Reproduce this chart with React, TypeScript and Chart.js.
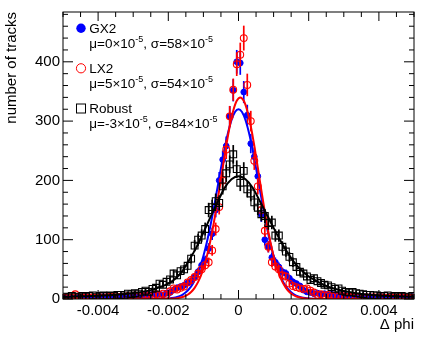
import React, { useEffect, useRef } from 'react';
import { Chart, registerables } from 'chart.js';

Chart.register(...registerables);

const FONT = '"Liberation Sans", Arial, Helvetica, sans-serif';

// Histogram binning (100 bins from -0.005 to 0.005)
const BIN_LOW = -0.005;
const BIN_WIDTH = 0.0001;
const N_BINS = 100;
const BIN_CENTERS = Array.from({ length: N_BINS }, (_, i) => BIN_LOW + (i + 0.5) * BIN_WIDTH);

// Bin contents (bins -4.95e-3 ... 4.95e-3)
const GX2_COUNTS = [
  3, 2, 3, 2, 3, 2, 3, 3, 2, 3,
  3, 4, 3, 4, 3, 4, 5, 4, 5, 5,
  6, 5, 6, 7, 6, 8, 7, 8, 7, 10,
  11, 15, 19, 21, 23, 27, 30, 37, 46, 57,
  65, 85, 110, 150, 200, 235, 258, 308, 352, 400,
  398, 349, 310, 262, 240, 207, 142, 100, 88, 70,
  62, 54, 46, 43, 35, 29, 26, 22, 15, 12,
  11, 9, 10, 8, 9, 7, 8, 6, 7, 5,
  6, 5, 4, 5, 4, 4, 3, 4, 3, 3,
  4, 3, 2, 3, 3, 2, 3, 2, 3, 4,
];

const LX2_COUNTS = [
  2, 3, 2, 8, 3, 2, 3, 2, 3, 2,
  3, 2, 3, 4, 3, 3, 4, 3, 5, 4,
  6, 4, 5, 7, 5, 6, 8, 7, 9, 7,
  13, 18, 16, 19, 21, 28, 32, 37, 43, 50,
  57, 62, 82, 118, 155, 200, 252, 308, 353, 396,
  412, 440, 361, 300, 233, 190, 150, 115, 88, 62,
  55, 50, 40, 38, 26, 22, 20, 18, 17, 18,
  14, 11, 7, 8, 6, 7, 5, 6, 4, 5,
  4, 3, 4, 3, 3, 2, 3, 2, 3, 2,
  3, 2, 2, 3, 2, 2, 3, 2, 2, 2,
];

const ROBUST_COUNTS = [
  4, 3, 5, 4, 3, 5, 4, 5, 6, 4,
  5, 6, 5, 6, 5, 7, 7, 6, 9, 8,
  10, 9, 12, 14, 12, 17, 19, 26, 24, 29,
  33, 43, 40, 47, 50, 56, 68, 90, 100, 107,
  118, 150, 155, 165, 162, 190, 212, 227, 244, 219,
  196, 216, 185, 178, 163, 154, 143, 140, 128, 129,
  107, 107, 88, 80, 71, 62, 54, 46, 43, 38,
  32, 35, 30, 27, 24, 23, 20, 17, 18, 14,
  12, 11, 12, 10, 9, 8, 7, 7, 6, 6,
  5, 5, 6, 4, 5, 4, 5, 4, 3, 5,
];

// Fit curves (x in units of 1e-3)
const FIT_X_UNIT = 1e-3;
const GX2_FIT_X = [
  -5, -2.6, -2.4, -2.2,
  -2.0, -1.9, -1.8, -1.7, -1.6, -1.5, -1.4, -1.3, -1.2, -1.1, -1.0,
  -0.9, -0.8, -0.7, -0.6, -0.5, -0.4, -0.3, -0.2, -0.1, 0,
  0.1, 0.2, 0.3, 0.4, 0.5, 0.6, 0.7, 0.8, 0.9, 1.0,
  1.1, 1.2, 1.3, 1.4, 1.5, 1.6, 1.7, 1.8, 1.9, 2.0,
  2.2, 2.4, 2.6, 5,
];
const GX2_FIT_Y = [
  0, 0.01, 0.06, 0.24,
  0.84, 1.5, 2.6, 4.4, 7.1, 11.3, 17.4, 25.9, 37.6, 53.0, 72.4,
  96.0, 123.6, 154.5, 187.4, 220.7, 252.3, 279.9, 301.5, 315.3, 320,
  315.3, 301.5, 279.9, 252.3, 220.7, 187.4, 154.5, 123.6, 96.0, 72.4,
  53.0, 37.6, 25.9, 17.4, 11.3, 7.1, 4.4, 2.6, 1.5, 0.84,
  0.24, 0.06, 0.01, 0,
];

const LX2_FIT_X = [
  -5, -2.35, -2.15,
  -1.95, -1.85, -1.75, -1.65, -1.55, -1.45, -1.35, -1.25, -1.15, -1.05,
  -0.95, -0.85, -0.75, -0.65, -0.55, -0.45, -0.35, -0.25, -0.15, -0.05,
  0.05,
  0.15, 0.25, 0.35, 0.45, 0.55, 0.65, 0.75, 0.85, 0.95, 1.05,
  1.15, 1.25, 1.35, 1.45, 1.55, 1.65, 1.75, 1.85, 1.95,
  2.05, 2.25, 2.45, 5,
];
const LX2_FIT_Y = [
  0, 0.02, 0.08,
  0.36, 0.7, 1.3, 2.4, 4.2, 7.2, 11.8, 18.8, 28.8, 42.7,
  61.2, 84.8, 113.5, 146.7, 183.4, 221.5, 258.4, 291.4, 317.5, 334.2,
  340,
  334.2, 317.5, 291.4, 258.4, 221.5, 183.4, 146.7, 113.5, 84.8, 61.2,
  42.7, 28.8, 18.8, 11.8, 7.2, 4.2, 2.4, 1.3, 0.7,
  0.36, 0.08, 0.02, 0,
];

const ROBUST_FIT_X = [
  -5, -4.5, -4, -3.5, -3, -2.5, -2.2, -2.0, -1.8, -1.6, -1.4, -1.2, -1.0,
  -0.8, -0.6, -0.4, -0.2, 0, 0.2, 0.4, 0.6, 0.8, 1.0, 1.2, 1.4, 1.6,
  1.8, 2.0, 2.2, 2.5, 3, 3.5, 4, 4.5, 5,
];
const ROBUST_FIT_Y = [
  3.5, 4.5, 5.5, 7, 10, 15, 21, 26, 34, 47, 66, 87, 112,
  138, 163, 187, 202, 207, 202, 188, 166, 143, 120, 98, 78, 61,
  48, 38, 31, 22, 13.5, 8.5, 6, 4.5, 4,
];

const X_TICKS = [-0.004, -0.002, 0, 0.002, 0.004];
const Y_TICKS = [0, 100, 200, 300, 400];
const X_MIN = -0.005;
const X_MAX = 0.005;
const Y_MIN = 0;
const Y_MAX = 484;

const SERIES = [
  { label: 'GX2', mu: '0', sigma: '58', color: '#0000ff' },
  { label: 'LX2', mu: '5', sigma: '54', color: '#ff0000' },
  { label: 'Robust', mu: '-3', sigma: '84', color: '#000000' },
];

const X_TITLE = '\u0394 phi';
const Y_TITLE = 'number of tracks';

const toPoints = (xs: number[], ys: number[], unit = 1) => xs.map((x, i) => ({ x: x * unit, y: ys[i] }));

const errorBarPlugin = {
  id: 'errorBars',
  beforeDatasetDraw(chart: any, args: any) {
    const ds = chart.data.datasets[args.index];
    if (!ds.errorBars) return;
    const { ctx, chartArea: a, scales } = chart;
    const xs = scales.x;
    const ys = scales.y;
    ctx.save();
    ctx.beginPath();
    ctx.rect(a.left, a.top, a.right - a.left, a.bottom - a.top);
    ctx.clip();
    ctx.strokeStyle = ds.borderColor;
    ctx.lineWidth = 1.7;
    for (const p of ds.data) {
      const e = Math.sqrt(p.y);
      const px = xs.getPixelForValue(p.x);
      ctx.beginPath();
      ctx.moveTo(px, ys.getPixelForValue(p.y - e));
      ctx.lineTo(px, ys.getPixelForValue(p.y + e));
      ctx.stroke();
    }
    ctx.restore();
  },
};

const framePlugin = {
  id: 'rootFrame',
  afterDraw(chart: any) {
    const { ctx, chartArea: a, scales } = chart;
    const xs = scales.x;
    const ys = scales.y;
    ctx.save();
    ctx.strokeStyle = '#000';
    ctx.lineWidth = 1;
    ctx.strokeRect(a.left, a.top, a.right - a.left, a.bottom - a.top);

    // x ticks (inside, bottom and top)
    ctx.beginPath();
    for (let k = 0; k <= 20; k++) {
      const v = X_MIN + k * 0.0005;
      const isMajor = X_TICKS.some((t) => Math.abs(t - v) < 1e-9);
      const len = isMajor ? 9 : 5;
      const px = xs.getPixelForValue(v);
      ctx.moveTo(px, a.bottom);
      ctx.lineTo(px, a.bottom - len);
      ctx.moveTo(px, a.top);
      ctx.lineTo(px, a.top + len);
    }
    // y ticks (inside, left and right)
    for (let v = 0; v <= Y_MAX; v += 20) {
      const isMajor = v % 100 === 0;
      const len = isMajor ? 10 : 5;
      const py = ys.getPixelForValue(v);
      ctx.moveTo(a.left, py);
      ctx.lineTo(a.left + len, py);
      ctx.moveTo(a.right, py);
      ctx.lineTo(a.right - len, py);
    }
    ctx.stroke();

    // axis titles
    ctx.fillStyle = '#000';
    ctx.font = `15px ${FONT}`;
    ctx.textAlign = 'right';
    ctx.textBaseline = 'middle';
    ctx.fillText(X_TITLE, a.right, 325);
    ctx.save();
    ctx.translate(12, a.top);
    ctx.rotate(-Math.PI / 2);
    ctx.textAlign = 'right';
    ctx.fillText(Y_TITLE, 0, 0);
    ctx.restore();

    // legend
    const mainFont = `13.5px ${FONT}`;
    const supFont = `9px ${FONT}`;
    const markX = 81;
    const textX = 89.3;
    const rowY = [33.3, 73.3, 113.3];
    SERIES.forEach((s, i) => {
      const base = rowY[i];
      const cy = base - 5;
      ctx.lineWidth = 1;
      ctx.strokeStyle = s.color;
      ctx.fillStyle = s.color;
      if (i === 0) {
        ctx.beginPath();
        ctx.arc(markX, cy, 4.7, 0, Math.PI * 2);
        ctx.fill();
      } else if (i === 1) {
        ctx.beginPath();
        ctx.arc(markX, cy, 4.6, 0, Math.PI * 2);
        ctx.stroke();
      } else {
        ctx.strokeRect(markX - 4.5, cy - 4.3, 9, 9);
      }
      ctx.fillStyle = '#000';
      ctx.textAlign = 'left';
      ctx.textBaseline = 'alphabetic';
      ctx.font = mainFont;
      ctx.fillText(s.label, textX, base);
      const parts: [string, boolean][] = [
        [`\u03bc=${s.mu}\u00d710`, false],
        ['-5', true],
        [`, \u03c3=${s.sigma}\u00d710`, false],
        ['-5', true],
      ];
      let x = textX;
      const b2 = base + (i === 0 ? 14.4 : 15);
      for (const [t, sup] of parts) {
        ctx.font = sup ? supFont : mainFont;
        ctx.fillText(t, x, sup ? b2 - 6 : b2);
        x += ctx.measureText(t).width;
      }
    });
    ctx.restore();
  },
};

export default function App() {
  const canvasRef = useRef<HTMLCanvasElement | null>(null);

  useEffect(() => {
    const canvas = canvasRef.current;
    if (!canvas) return;

    const pointSet = (counts: number[]) => BIN_CENTERS.map((x, i) => ({ x, y: counts[i] }));

    const chart = new Chart(canvas, {
      type: 'scatter',
      data: {
        datasets: [
          {
            label: 'Robust fit',
            data: toPoints(ROBUST_FIT_X, ROBUST_FIT_Y, FIT_X_UNIT),
            showLine: true,
            borderColor: '#000000',
            borderWidth: 2,
            pointRadius: 0,
            cubicInterpolationMode: 'monotone',
            order: 0,
          },
          {
            label: 'Robust',
            data: pointSet(ROBUST_COUNTS),
            pointStyle: 'rect',
            pointRadius: 4.8,
            backgroundColor: 'rgba(0,0,0,0)',
            borderColor: '#000000',
            borderWidth: 1.1,
            errorBars: true,
            order: 1,
          },
          {
            label: 'LX2 fit',
            data: toPoints(LX2_FIT_X, LX2_FIT_Y, FIT_X_UNIT),
            showLine: true,
            borderColor: '#ff0000',
            borderWidth: 2,
            pointRadius: 0,
            cubicInterpolationMode: 'monotone',
            order: 2,
          },
          {
            label: 'LX2',
            data: pointSet(LX2_COUNTS),
            pointStyle: 'circle',
            pointRadius: 3.4,
            backgroundColor: 'rgba(0,0,0,0)',
            borderColor: '#ff0000',
            borderWidth: 1.1,
            errorBars: true,
            order: 3,
          },
          {
            label: 'GX2 fit',
            data: toPoints(GX2_FIT_X, GX2_FIT_Y, FIT_X_UNIT),
            showLine: true,
            borderColor: '#0000ff',
            borderWidth: 2,
            pointRadius: 0,
            cubicInterpolationMode: 'monotone',
            order: 4,
          },
          {
            label: 'GX2',
            data: pointSet(GX2_COUNTS),
            pointStyle: 'circle',
            pointRadius: 2.9,
            backgroundColor: '#0000ff',
            borderColor: '#0000ff',
            borderWidth: 1,
            errorBars: true,
            order: 5,
          },
        ] as any,
      },
      options: {
        responsive: false,
        animation: false,
        events: [],
        layout: { padding: { left: 0, top: 10, right: 17, bottom: 0 } },
        plugins: {
          legend: { display: false },
          tooltip: { enabled: false },
        },
        scales: {
          x: {
            type: 'linear',
            min: X_MIN,
            max: X_MAX,
            grid: { display: false, drawTicks: false },
            border: { display: false },
            afterBuildTicks: (s: any) => {
              s.ticks = X_TICKS.map((value) => ({ value }));
            },
            afterFit: (s: any) => {
              s.height = 44;
            },
            ticks: {
              maxRotation: 0,
              autoSkip: false,
              padding: 3,
              color: '#000',
              font: { family: FONT, size: 15 },
              callback: (v: any) => (Number(v) === 0 ? '0' : Number(v).toFixed(3)),
            },
          },
          y: {
            type: 'linear',
            min: Y_MIN,
            max: Y_MAX,
            grid: { display: false, drawTicks: false },
            border: { display: false },
            afterBuildTicks: (s: any) => {
              s.ticks = Y_TICKS.map((value) => ({ value }));
            },
            afterFit: (s: any) => {
              s.width = 63;
            },
            ticks: {
              autoSkip: false,
              padding: 3,
              color: '#000',
              font: { family: FONT, size: 15 },
              callback: (v: any) => String(v),
            },
          },
        },
      } as any,
      plugins: [errorBarPlugin, framePlugin],
    });

    return () => chart.destroy();
  }, []);

  return (
    <div style={{ position: 'fixed', left: 0, top: 0, width: 431, height: 343, background: '#fff' }}>
      <canvas ref={canvasRef} width={431} height={343} style={{ display: 'block', width: 431, height: 343 }} />
    </div>
  );
}
